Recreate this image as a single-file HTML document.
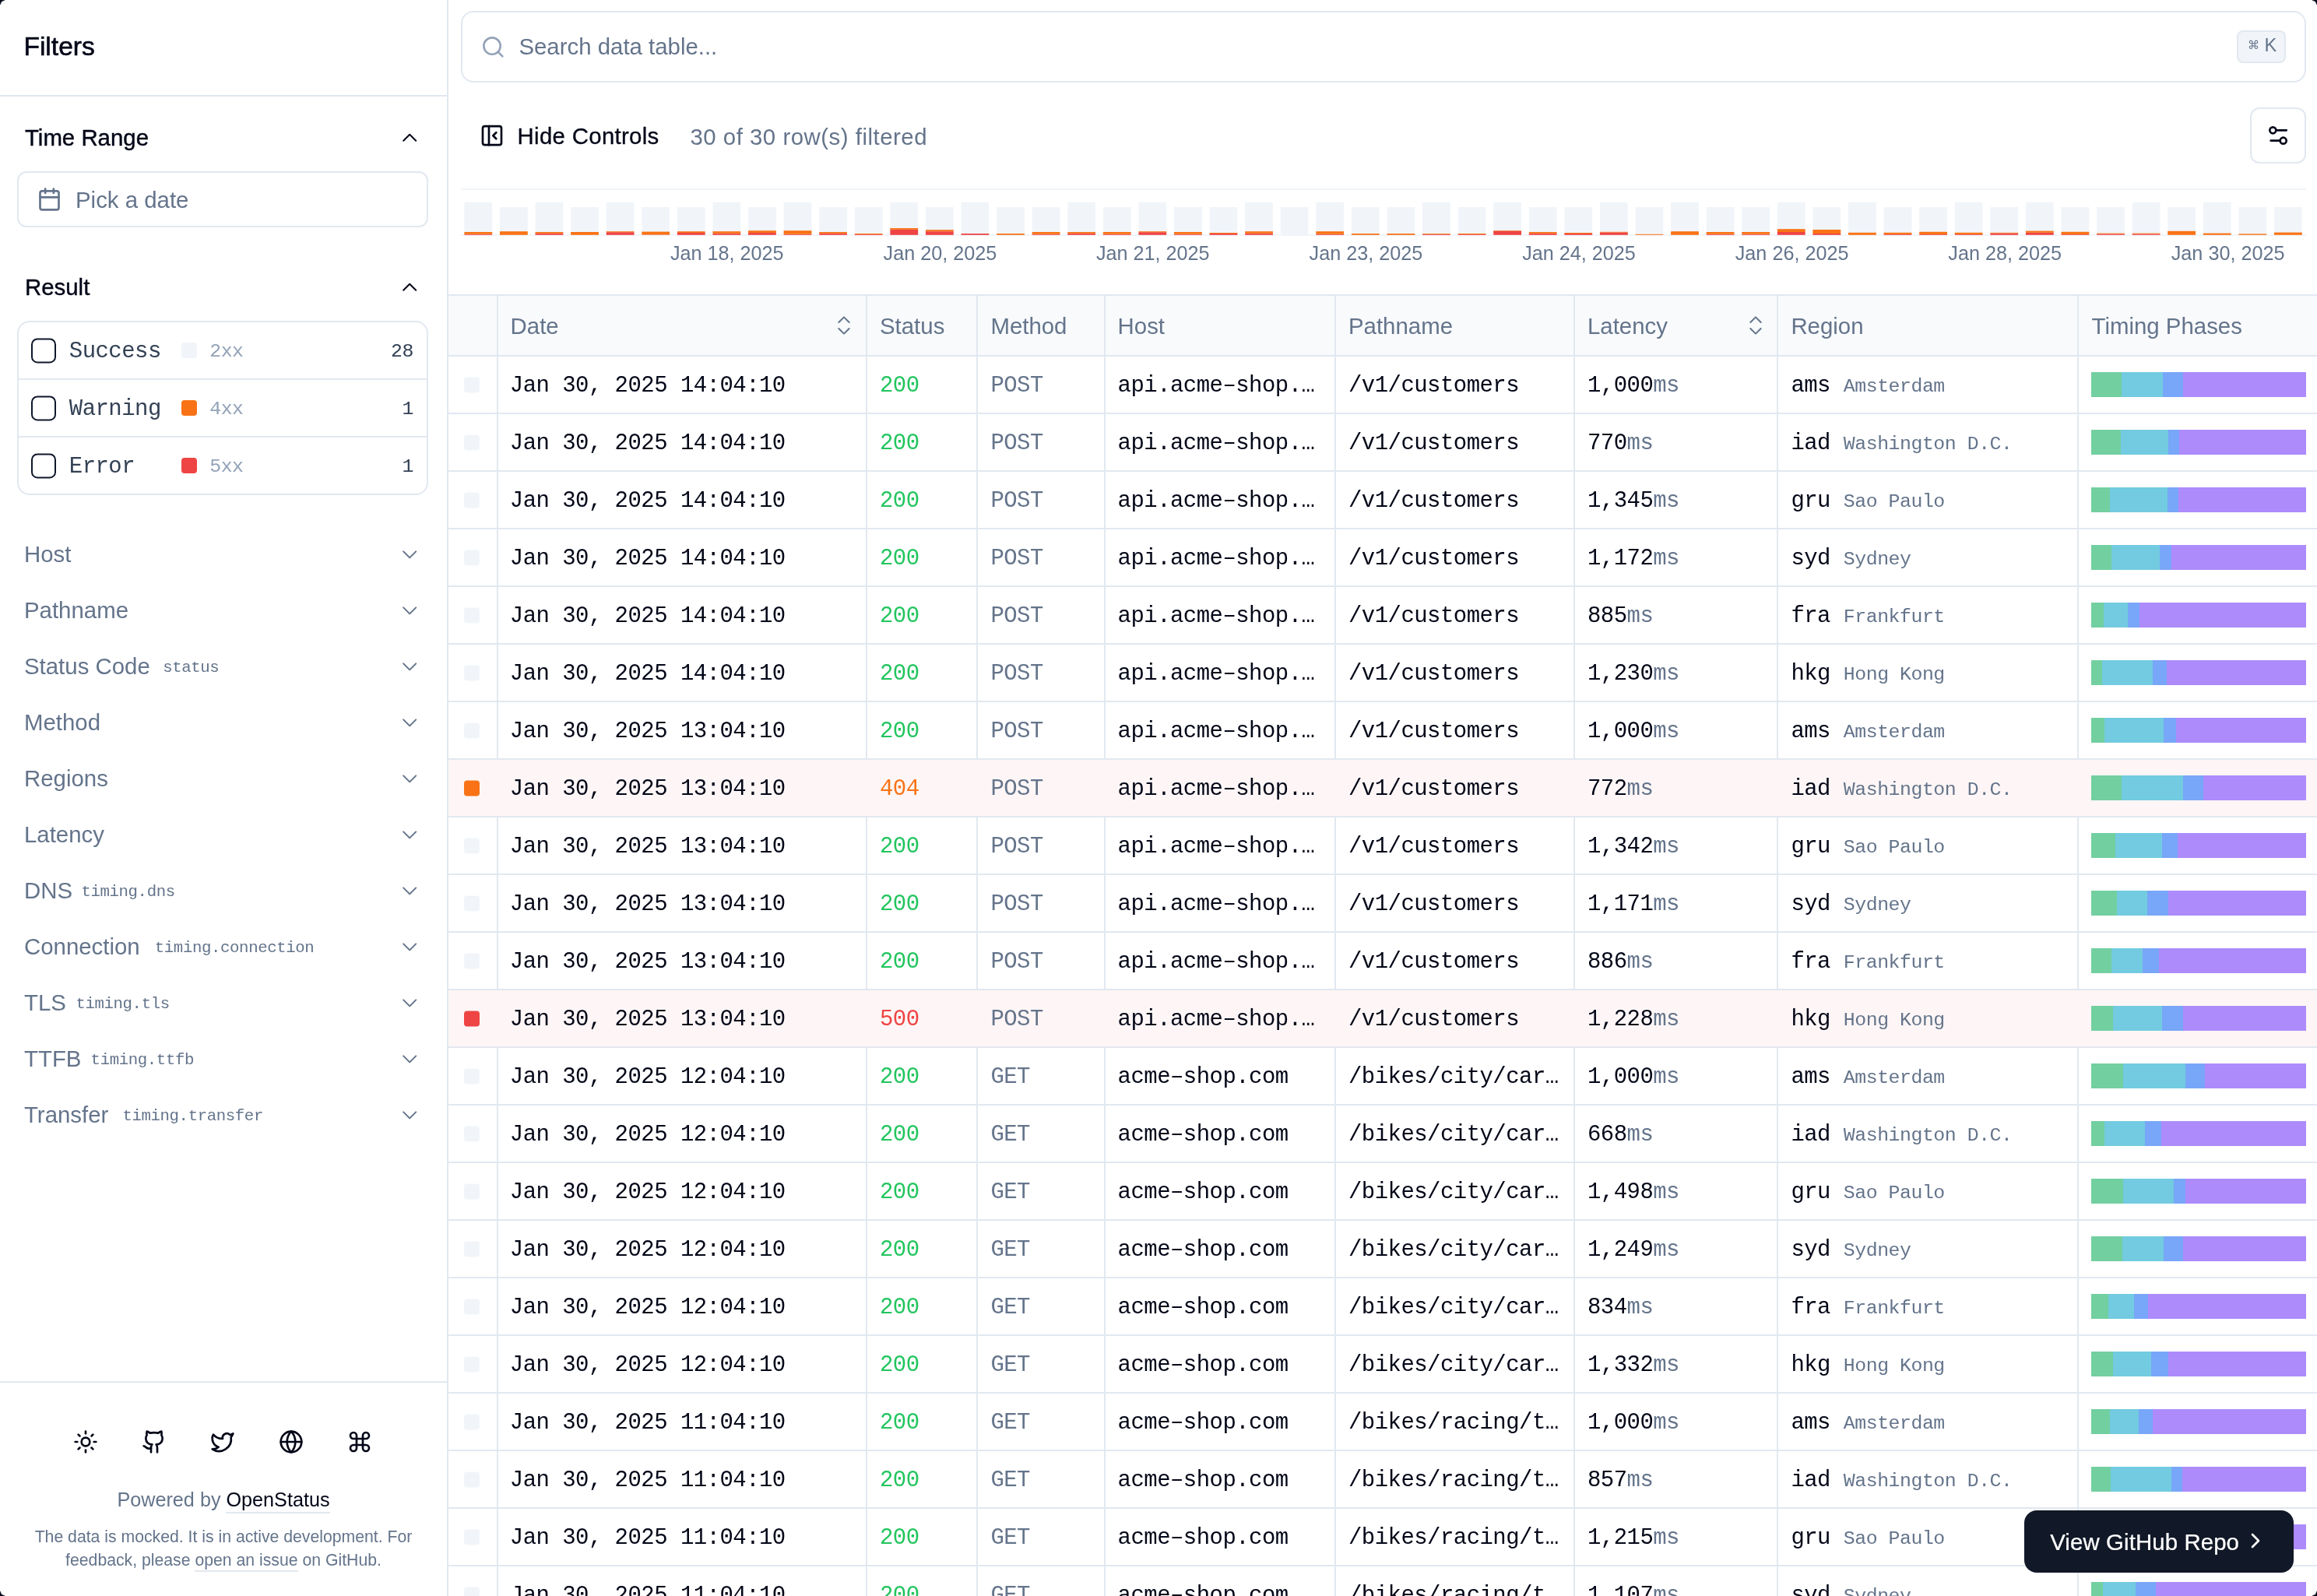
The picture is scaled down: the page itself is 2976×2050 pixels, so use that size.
<!DOCTYPE html><html><head><meta charset="utf-8"><style>
html,body{margin:0;padding:0}
body{width:1488px;height:1025px;overflow:hidden;background:#fff;position:relative;font-family:'Liberation Sans', sans-serif}
.t{position:absolute;white-space:nowrap;line-height:1}
.b{position:absolute;box-sizing:border-box}
.ic{position:absolute;overflow:visible}
@media (min-width: 2000px) { body{zoom:2} .t{margin-top:-1px} }

</style></head><body><div id="wrap" style="position:absolute;left:0;top:0;width:1488px;height:1025px;will-change:transform">
<div class="b" style="left:287px;top:0px;width:1px;height:1025px;background:#e2e8f0"></div>
<div class="b" style="left:0px;top:61px;width:287px;height:1px;background:#e2e8f0"></div>
<div class="t" style="font-size:16.80px;color:#020617;letter-spacing:0.000px;font-family:'Liberation Sans', sans-serif;left:15px;top:22px;transform:translate(0.200px,0.600px);-webkit-text-stroke:0.3px #020617;">Filters</div>
<div class="t" style="font-size:14.70px;color:#020617;letter-spacing:0.000px;font-family:'Liberation Sans', sans-serif;left:16px;top:81px;transform:translate(0.000px,0.929px);-webkit-text-stroke:0.2px #020617;">Time Range</div>
<svg class="ic" style="left:255px;top:80px;transform:translate(0.100px,0.400px);" width="16" height="16" viewBox="0 0 24 24" fill="none" stroke="#020617" stroke-width="1.5" stroke-linecap="round" stroke-linejoin="round"><path d="m18 15-6-6-6 6"/></svg>
<div class="b" style="left:11px;top:110px;width:264px;height:36px;border:1px solid #e2e8f0;border-radius:6px"></div>
<svg class="ic" style="left:23px;top:120px;transform:translate(0.750px,0.000px);" width="16" height="16" viewBox="0 0 24 24" fill="none" stroke="#64748b" stroke-width="2" stroke-linecap="round" stroke-linejoin="round"><path d="M8 2v4"/><path d="M16 2v4"/><rect width="18" height="18" x="3" y="4" rx="2"/><path d="M3 10h18"/></svg>
<div class="t" style="font-size:14.70px;color:#64748b;letter-spacing:0.000px;font-family:'Liberation Sans', sans-serif;left:48px;top:121px;transform:translate(0.500px,0.929px);">Pick a date</div>
<div class="t" style="font-size:14.70px;color:#020617;letter-spacing:0.000px;font-family:'Liberation Sans', sans-serif;left:16px;top:177px;transform:translate(0.000px,0.929px);-webkit-text-stroke:0.2px #020617;">Result</div>
<svg class="ic" style="left:255px;top:176px;transform:translate(0.100px,0.400px);" width="16" height="16" viewBox="0 0 24 24" fill="none" stroke="#020617" stroke-width="1.5" stroke-linecap="round" stroke-linejoin="round"><path d="m18 15-6-6-6 6"/></svg>
<div class="b" style="left:11px;top:206px;width:264px;height:112px;border:1px solid #e2e8f0;border-radius:8px"></div>
<div class="b" style="left:12px;top:243px;width:262px;height:1px;background:#e2e8f0"></div>
<div class="b" style="left:12px;top:280px;width:262px;height:1px;background:#e2e8f0"></div>
<div class="b" style="left:20px;top:217px;transform:translate(0.000px,0.200px);width:16px;height:16px;border:1px solid #0f172a;border-radius:4px"></div>
<div class="t" style="font-size:14.49px;color:#334155;letter-spacing:-0.266px;font-family:'Liberation Mono', monospace;left:44px;top:219px;transform:translate(0.400px,0.524px);">Success</div>
<div class="b" style="left:116px;top:220px;transform:translate(0.500px,0.000px);width:10px;height:10px;background:#f1f5f9;border-radius:2px"></div>
<div class="t" style="font-size:12.42px;color:#94a3b8;letter-spacing:-0.228px;font-family:'Liberation Mono', monospace;left:134px;top:220px;transform:translate(0.600px,0.410px);">2xx</div>
<div class="t" style="font-size:12.42px;color:#334155;letter-spacing:-0.228px;font-family:'Liberation Mono', monospace;right:1222.5px;top:220px;transform:translateY(0.410px);">28</div>
<div class="b" style="left:20px;top:254px;transform:translate(0.000px,0.200px);width:16px;height:16px;border:1px solid #0f172a;border-radius:4px"></div>
<div class="t" style="font-size:14.49px;color:#334155;letter-spacing:-0.266px;font-family:'Liberation Mono', monospace;left:44px;top:256px;transform:translate(0.400px,0.524px);">Warning</div>
<div class="b" style="left:116px;top:257px;transform:translate(0.500px,0.000px);width:10px;height:10px;background:#f97316;border-radius:2px"></div>
<div class="t" style="font-size:12.42px;color:#94a3b8;letter-spacing:-0.228px;font-family:'Liberation Mono', monospace;left:134px;top:257px;transform:translate(0.600px,0.410px);">4xx</div>
<div class="t" style="font-size:12.42px;color:#334155;letter-spacing:-0.228px;font-family:'Liberation Mono', monospace;right:1222.5px;top:257px;transform:translateY(0.410px);">1</div>
<div class="b" style="left:20px;top:291px;transform:translate(0.000px,0.200px);width:16px;height:16px;border:1px solid #0f172a;border-radius:4px"></div>
<div class="t" style="font-size:14.49px;color:#334155;letter-spacing:-0.266px;font-family:'Liberation Mono', monospace;left:44px;top:293px;transform:translate(0.400px,0.524px);">Error</div>
<div class="b" style="left:116px;top:294px;transform:translate(0.500px,0.000px);width:10px;height:10px;background:#ef4444;border-radius:2px"></div>
<div class="t" style="font-size:12.42px;color:#94a3b8;letter-spacing:-0.228px;font-family:'Liberation Mono', monospace;left:134px;top:294px;transform:translate(0.600px,0.410px);">5xx</div>
<div class="t" style="font-size:12.42px;color:#334155;letter-spacing:-0.228px;font-family:'Liberation Mono', monospace;right:1222.5px;top:294px;transform:translateY(0.410px);">1</div>
<div class="t" style="font-size:14.70px;color:#64748b;letter-spacing:0.000px;font-family:'Liberation Sans', sans-serif;left:15px;top:349px;transform:translate(0.500px,0.629px);">Host</div>
<svg class="ic" style="left:255px;top:348px;transform:translate(0.100px,0.200px);" width="16" height="16" viewBox="0 0 24 24" fill="none" stroke="#64748b" stroke-width="1.5" stroke-linecap="round" stroke-linejoin="round"><path d="m6 9 6 6 6-6"/></svg>
<div class="t" style="font-size:14.70px;color:#64748b;letter-spacing:0.000px;font-family:'Liberation Sans', sans-serif;left:15px;top:385px;transform:translate(0.500px,0.629px);">Pathname</div>
<svg class="ic" style="left:255px;top:384px;transform:translate(0.100px,0.200px);" width="16" height="16" viewBox="0 0 24 24" fill="none" stroke="#64748b" stroke-width="1.5" stroke-linecap="round" stroke-linejoin="round"><path d="m6 9 6 6 6-6"/></svg>
<div class="t" style="font-size:14.70px;color:#64748b;letter-spacing:0.000px;font-family:'Liberation Sans', sans-serif;left:15px;top:421px;transform:translate(0.500px,0.629px);">Status Code</div>
<div class="t" style="font-size:10.35px;color:#64748b;letter-spacing:-0.190px;font-family:'Liberation Mono', monospace;left:104px;top:425px;transform:translate(0.600px,0.146px);">status</div>
<svg class="ic" style="left:255px;top:420px;transform:translate(0.100px,0.200px);" width="16" height="16" viewBox="0 0 24 24" fill="none" stroke="#64748b" stroke-width="1.5" stroke-linecap="round" stroke-linejoin="round"><path d="m6 9 6 6 6-6"/></svg>
<div class="t" style="font-size:14.70px;color:#64748b;letter-spacing:0.000px;font-family:'Liberation Sans', sans-serif;left:15px;top:457px;transform:translate(0.500px,0.629px);">Method</div>
<svg class="ic" style="left:255px;top:456px;transform:translate(0.100px,0.200px);" width="16" height="16" viewBox="0 0 24 24" fill="none" stroke="#64748b" stroke-width="1.5" stroke-linecap="round" stroke-linejoin="round"><path d="m6 9 6 6 6-6"/></svg>
<div class="t" style="font-size:14.70px;color:#64748b;letter-spacing:0.000px;font-family:'Liberation Sans', sans-serif;left:15px;top:493px;transform:translate(0.500px,0.629px);">Regions</div>
<svg class="ic" style="left:255px;top:492px;transform:translate(0.100px,0.200px);" width="16" height="16" viewBox="0 0 24 24" fill="none" stroke="#64748b" stroke-width="1.5" stroke-linecap="round" stroke-linejoin="round"><path d="m6 9 6 6 6-6"/></svg>
<div class="t" style="font-size:14.70px;color:#64748b;letter-spacing:0.000px;font-family:'Liberation Sans', sans-serif;left:15px;top:529px;transform:translate(0.500px,0.629px);">Latency</div>
<svg class="ic" style="left:255px;top:528px;transform:translate(0.100px,0.200px);" width="16" height="16" viewBox="0 0 24 24" fill="none" stroke="#64748b" stroke-width="1.5" stroke-linecap="round" stroke-linejoin="round"><path d="m6 9 6 6 6-6"/></svg>
<div class="t" style="font-size:14.70px;color:#64748b;letter-spacing:0.000px;font-family:'Liberation Sans', sans-serif;left:15px;top:565px;transform:translate(0.500px,0.629px);">DNS</div>
<div class="t" style="font-size:10.35px;color:#64748b;letter-spacing:-0.190px;font-family:'Liberation Mono', monospace;left:52px;top:569px;transform:translate(0.200px,0.146px);">timing.dns</div>
<svg class="ic" style="left:255px;top:564px;transform:translate(0.100px,0.200px);" width="16" height="16" viewBox="0 0 24 24" fill="none" stroke="#64748b" stroke-width="1.5" stroke-linecap="round" stroke-linejoin="round"><path d="m6 9 6 6 6-6"/></svg>
<div class="t" style="font-size:14.70px;color:#64748b;letter-spacing:0.000px;font-family:'Liberation Sans', sans-serif;left:15px;top:601px;transform:translate(0.500px,0.629px);">Connection</div>
<div class="t" style="font-size:10.35px;color:#64748b;letter-spacing:-0.190px;font-family:'Liberation Mono', monospace;left:99px;top:605px;transform:translate(0.400px,0.146px);">timing.connection</div>
<svg class="ic" style="left:255px;top:600px;transform:translate(0.100px,0.200px);" width="16" height="16" viewBox="0 0 24 24" fill="none" stroke="#64748b" stroke-width="1.5" stroke-linecap="round" stroke-linejoin="round"><path d="m6 9 6 6 6-6"/></svg>
<div class="t" style="font-size:14.70px;color:#64748b;letter-spacing:0.000px;font-family:'Liberation Sans', sans-serif;left:15px;top:637px;transform:translate(0.500px,0.629px);">TLS</div>
<div class="t" style="font-size:10.35px;color:#64748b;letter-spacing:-0.190px;font-family:'Liberation Mono', monospace;left:48px;top:641px;transform:translate(0.700px,0.146px);">timing.tls</div>
<svg class="ic" style="left:255px;top:636px;transform:translate(0.100px,0.200px);" width="16" height="16" viewBox="0 0 24 24" fill="none" stroke="#64748b" stroke-width="1.5" stroke-linecap="round" stroke-linejoin="round"><path d="m6 9 6 6 6-6"/></svg>
<div class="t" style="font-size:14.70px;color:#64748b;letter-spacing:0.000px;font-family:'Liberation Sans', sans-serif;left:15px;top:673px;transform:translate(0.500px,0.629px);">TTFB</div>
<div class="t" style="font-size:10.35px;color:#64748b;letter-spacing:-0.190px;font-family:'Liberation Mono', monospace;left:58px;top:677px;transform:translate(0.300px,0.146px);">timing.ttfb</div>
<svg class="ic" style="left:255px;top:672px;transform:translate(0.100px,0.200px);" width="16" height="16" viewBox="0 0 24 24" fill="none" stroke="#64748b" stroke-width="1.5" stroke-linecap="round" stroke-linejoin="round"><path d="m6 9 6 6 6-6"/></svg>
<div class="t" style="font-size:14.70px;color:#64748b;letter-spacing:0.000px;font-family:'Liberation Sans', sans-serif;left:15px;top:709px;transform:translate(0.500px,0.629px);">Transfer</div>
<div class="t" style="font-size:10.35px;color:#64748b;letter-spacing:-0.190px;font-family:'Liberation Mono', monospace;left:78px;top:713px;transform:translate(0.700px,0.146px);">timing.transfer</div>
<svg class="ic" style="left:255px;top:708px;transform:translate(0.100px,0.200px);" width="16" height="16" viewBox="0 0 24 24" fill="none" stroke="#64748b" stroke-width="1.5" stroke-linecap="round" stroke-linejoin="round"><path d="m6 9 6 6 6-6"/></svg>
<div class="b" style="left:0px;top:887px;width:287px;height:1px;background:#e2e8f0"></div>
<svg class="ic" style="left:47px;top:918px;" width="16" height="16" viewBox="0 0 24 24" fill="none" stroke="#020617" stroke-width="2" stroke-linecap="round" stroke-linejoin="round"><circle cx="12" cy="12" r="4"/><path d="M12 2v2"/><path d="M12 20v2"/><path d="m4.93 4.93 1.41 1.41"/><path d="m17.66 17.66 1.41 1.41"/><path d="M2 12h2"/><path d="M20 12h2"/><path d="m6.34 17.66-1.41 1.41"/><path d="m19.07 4.93-1.41 1.41"/></svg>
<svg class="ic" style="left:91px;top:918px;" width="16" height="16" viewBox="0 0 24 24" fill="none" stroke="#020617" stroke-width="2" stroke-linecap="round" stroke-linejoin="round"><path d="M15 22v-4a4.8 4.8 0 0 0-1-3.5c3 0 6-2 6-5.5.08-1.25-.27-2.48-1-3.5.28-1.15.28-2.35 0-3.5 0 0-1 0-3 1.5-2.64-.5-5.36-.5-8 0C6 2 5 2 5 2c-.3 1.15-.3 2.35 0 3.5A5.403 5.403 0 0 0 4 9c0 3.5 3 5.5 6 5.5-.39.49-.68 1.05-.85 1.65-.17.6-.22 1.23-.15 1.85v4"/><path d="M9 18c-4.51 2-5-2-7-2"/></svg>
<svg class="ic" style="left:135px;top:918px;" width="16" height="16" viewBox="0 0 24 24" fill="none" stroke="#020617" stroke-width="2" stroke-linecap="round" stroke-linejoin="round"><path d="M22 4s-.7 2.1-2 3.4c1.6 10-9.4 17.3-18 11.6 2.2.1 4.4-.6 6-2C3 15.5.5 9.6 3 5c2.2 2.6 5.6 4.1 9 4-.9-4.2 4-6.6 7-3.8 1.1 0 3-1.2 3-1.2z"/></svg>
<svg class="ic" style="left:179px;top:918px;" width="16" height="16" viewBox="0 0 24 24" fill="none" stroke="#020617" stroke-width="2" stroke-linecap="round" stroke-linejoin="round"><circle cx="12" cy="12" r="10"/><path d="M12 2a14.5 14.5 0 0 0 0 20 14.5 14.5 0 0 0 0-20"/><path d="M2 12h20"/></svg>
<svg class="ic" style="left:223px;top:918px;" width="16" height="16" viewBox="0 0 24 24" fill="none" stroke="#020617" stroke-width="2" stroke-linecap="round" stroke-linejoin="round"><path d="M15 6v12a3 3 0 1 0 3-3H6a3 3 0 1 0 3 3V6a3 3 0 1 0-3 3h12a3 3 0 1 0-3-3"/></svg>
<div class="t" style="font-size:12.60px;color:#64748b;letter-spacing:0.000px;font-family:'Liberation Sans', sans-serif;left:3px;top:957px;transform:translate(0.500px,0.957px);width:280px;text-align:center;">Powered by <span style="color:#020617;border-bottom:1px solid #e2e8f0;padding-bottom:1px">OpenStatus</span></div>
<div class="t" style="font-size:10.61px;color:#64748b;letter-spacing:0.000px;font-family:'Liberation Sans', sans-serif;left:0px;top:982px;transform:translate(0.500px,0.596px);width:286px;text-align:center;">The data is mocked. It is in active development. For</div>
<div class="t" style="font-size:10.61px;color:#64748b;letter-spacing:0.000px;font-family:'Liberation Sans', sans-serif;left:0px;top:997px;transform:translate(0.500px,0.496px);width:286px;text-align:center;">feedback, please <span style="border-bottom:1px solid #e2e8f0;padding-bottom:1px">open an issue</span> on GitHub.</div>
<div class="b" style="left:296px;top:7px;width:1185px;height:46px;border:1px solid #e2e8f0;border-radius:8px"></div>
<svg class="ic" style="left:308px;top:22px;transform:translate(0.700px,0.200px);" width="16" height="16" viewBox="0 0 24 24" fill="none" stroke="#94a3b8" stroke-width="2" stroke-linecap="round" stroke-linejoin="round"><circle cx="11" cy="11" r="8"/><path d="m21 21-4.3-4.3"/></svg>
<div class="t" style="font-size:14.70px;color:#64748b;letter-spacing:0.000px;font-family:'Liberation Sans', sans-serif;left:333px;top:23px;transform:translate(0.200px,0.679px);">Search data table...</div>
<div class="b" style="left:1436px;top:19px;transform:translate(0.500px,0.500px);width:31.5px;height:21px;background:#f1f5f9;border:1px solid #e2e8f0;border-radius:4px"></div>
<div class="t" style="font-size:7.67px;color:#64748b;letter-spacing:0.000px;font-family:'Liberation Sans', sans-serif;left:1443px;top:26px;transform:translate(0.400px,0.085px);">⌘</div>
<div class="t" style="font-size:11.87px;color:#64748b;letter-spacing:0.000px;font-family:'Liberation Sans', sans-serif;left:1454px;top:24px;transform:translate(0.200px,0.579px);">K</div>
<svg class="ic" style="left:308px;top:79px;transform:translate(0.000px,0.100px);" width="16" height="16" viewBox="0 0 24 24" fill="none" stroke="#020617" stroke-width="2" stroke-linecap="round" stroke-linejoin="round"><rect width="18" height="18" x="3" y="3" rx="2"/><path d="M9 3v18"/><path d="m16 15-3-3 3-3"/></svg>
<div class="t" style="font-size:14.70px;color:#020617;letter-spacing:0.150px;font-family:'Liberation Sans', sans-serif;left:332px;top:81px;transform:translate(0.300px,0.129px);-webkit-text-stroke:0.15px #020617;">Hide Controls</div>
<div class="t" style="font-size:14.70px;color:#64748b;letter-spacing:0.255px;font-family:'Liberation Sans', sans-serif;left:443px;top:81px;transform:translate(0.200px,0.329px);">30 of 30 row(s) filtered</div>
<div class="b" style="left:1445px;top:69px;width:36px;height:36px;border:1px solid #e2e8f0;border-radius:6px"></div>
<svg class="ic" style="left:1455px;top:79px;" width="16" height="16" viewBox="0 0 24 24" fill="none" stroke="#020617" stroke-width="2" stroke-linecap="round" stroke-linejoin="round"><path d="M20 7h-9"/><path d="M14 17H5"/><circle cx="17" cy="17" r="3"/><circle cx="7" cy="7" r="3"/></svg>
<div class="b" style="left:296px;top:121px;width:1185px;height:1px;background:#f1f5f9"></div>
<div class="b" style="left:296px;top:150px;transform:translate(0.000px,0.500px);width:1185px;height:1px;background:#f1f5f9"></div>
<svg style="position:absolute;left:0;top:0;overflow:visible" width="1488" height="160"><rect x="298.20" y="129.9" width="17.9" height="21.00" fill="#f1f5f9"/><rect x="298.20" y="150.40" width="17.9" height="0.5" fill="#ef4444"/><rect x="298.20" y="149.00" width="17.9" height="1.4" fill="#f97316"/><rect x="320.99" y="133" width="17.9" height="17.90" fill="#f1f5f9"/><rect x="320.99" y="148.60" width="17.9" height="2.3" fill="#f97316"/><rect x="343.78" y="129.9" width="17.9" height="21.00" fill="#f1f5f9"/><rect x="343.78" y="149.90" width="17.9" height="1" fill="#ef4444"/><rect x="343.78" y="149.00" width="17.9" height="0.9" fill="#f97316"/><rect x="366.57" y="133" width="17.9" height="17.90" fill="#f1f5f9"/><rect x="366.57" y="149.00" width="17.9" height="1.9" fill="#f97316"/><rect x="389.36" y="129.9" width="17.9" height="21.00" fill="#f1f5f9"/><rect x="389.36" y="149.10" width="17.9" height="1.8" fill="#ef4444"/><rect x="389.36" y="148.60" width="17.9" height="0.5" fill="#f97316"/><rect x="412.15" y="133" width="17.9" height="17.90" fill="#f1f5f9"/><rect x="412.15" y="150.70" width="17.9" height="0.2" fill="#ef4444"/><rect x="412.15" y="148.80" width="17.9" height="1.9" fill="#f97316"/><rect x="434.94" y="133" width="17.9" height="17.90" fill="#f1f5f9"/><rect x="434.94" y="149.50" width="17.9" height="1.4" fill="#ef4444"/><rect x="434.94" y="148.60" width="17.9" height="0.9" fill="#f97316"/><rect x="457.73" y="129.9" width="17.9" height="21.00" fill="#f1f5f9"/><rect x="457.73" y="149.90" width="17.9" height="1" fill="#ef4444"/><rect x="457.73" y="148.60" width="17.9" height="1.3" fill="#f97316"/><rect x="480.52" y="133" width="17.9" height="17.90" fill="#f1f5f9"/><rect x="480.52" y="149.50" width="17.9" height="1.4" fill="#ef4444"/><rect x="480.52" y="148.10" width="17.9" height="1.4" fill="#f97316"/><rect x="503.31" y="129.9" width="17.9" height="21.00" fill="#f1f5f9"/><rect x="503.31" y="150.40" width="17.9" height="0.5" fill="#ef4444"/><rect x="503.31" y="148.10" width="17.9" height="2.3" fill="#f97316"/><rect x="526.10" y="133" width="17.9" height="17.90" fill="#f1f5f9"/><rect x="526.10" y="149.90" width="17.9" height="1" fill="#ef4444"/><rect x="526.10" y="149.00" width="17.9" height="0.9" fill="#f97316"/><rect x="548.89" y="133" width="17.9" height="17.90" fill="#f1f5f9"/><rect x="548.89" y="150.50" width="17.9" height="0.4" fill="#ef4444"/><rect x="548.89" y="150.00" width="17.9" height="0.5" fill="#f97316"/><rect x="571.68" y="129.9" width="17.9" height="21.00" fill="#f1f5f9"/><rect x="571.68" y="147.40" width="17.9" height="3.5" fill="#ef4444"/><rect x="571.68" y="146.50" width="17.9" height="0.9" fill="#f97316"/><rect x="594.47" y="133" width="17.9" height="17.90" fill="#f1f5f9"/><rect x="594.47" y="148.60" width="17.9" height="2.3" fill="#ef4444"/><rect x="594.47" y="147.60" width="17.9" height="1" fill="#f97316"/><rect x="617.26" y="129.9" width="17.9" height="21.00" fill="#f1f5f9"/><rect x="617.26" y="150.00" width="17.9" height="0.9" fill="#ef4444"/><rect x="640.05" y="133" width="17.9" height="17.90" fill="#f1f5f9"/><rect x="640.05" y="150.00" width="17.9" height="0.9" fill="#f97316"/><rect x="662.84" y="133" width="17.9" height="17.90" fill="#f1f5f9"/><rect x="662.84" y="150.40" width="17.9" height="0.5" fill="#ef4444"/><rect x="662.84" y="149.00" width="17.9" height="1.4" fill="#f97316"/><rect x="685.63" y="129.9" width="17.9" height="21.00" fill="#f1f5f9"/><rect x="685.63" y="149.90" width="17.9" height="1" fill="#ef4444"/><rect x="685.63" y="149.00" width="17.9" height="0.9" fill="#f97316"/><rect x="708.42" y="133" width="17.9" height="17.90" fill="#f1f5f9"/><rect x="708.42" y="150.40" width="17.9" height="0.5" fill="#ef4444"/><rect x="708.42" y="149.00" width="17.9" height="1.4" fill="#f97316"/><rect x="731.21" y="129.9" width="17.9" height="21.00" fill="#f1f5f9"/><rect x="731.21" y="149.10" width="17.9" height="1.8" fill="#ef4444"/><rect x="731.21" y="148.60" width="17.9" height="0.5" fill="#f97316"/><rect x="754.00" y="133" width="17.9" height="17.90" fill="#f1f5f9"/><rect x="754.00" y="150.40" width="17.9" height="0.5" fill="#ef4444"/><rect x="754.00" y="149.00" width="17.9" height="1.4" fill="#f97316"/><rect x="776.79" y="133" width="17.9" height="17.90" fill="#f1f5f9"/><rect x="776.79" y="150.00" width="17.9" height="0.9" fill="#ef4444"/><rect x="776.79" y="149.50" width="17.9" height="0.5" fill="#f97316"/><rect x="799.58" y="129.9" width="17.9" height="21.00" fill="#f1f5f9"/><rect x="799.58" y="149.90" width="17.9" height="1" fill="#ef4444"/><rect x="799.58" y="148.60" width="17.9" height="1.3" fill="#f97316"/><rect x="822.37" y="133" width="17.9" height="17.90" fill="#f1f5f9"/><rect x="845.16" y="129.9" width="17.9" height="21.00" fill="#f1f5f9"/><rect x="845.16" y="150.40" width="17.9" height="0.5" fill="#ef4444"/><rect x="845.16" y="148.60" width="17.9" height="1.8" fill="#f97316"/><rect x="867.95" y="133" width="17.9" height="17.90" fill="#f1f5f9"/><rect x="867.95" y="150.00" width="17.9" height="0.9" fill="#f97316"/><rect x="890.74" y="133" width="17.9" height="17.90" fill="#f1f5f9"/><rect x="890.74" y="150.00" width="17.9" height="0.9" fill="#f97316"/><rect x="913.53" y="129.9" width="17.9" height="21.00" fill="#f1f5f9"/><rect x="913.53" y="150.40" width="17.9" height="0.5" fill="#ef4444"/><rect x="913.53" y="150.00" width="17.9" height="0.4" fill="#f97316"/><rect x="936.32" y="133" width="17.9" height="17.90" fill="#f1f5f9"/><rect x="936.32" y="150.50" width="17.9" height="0.4" fill="#ef4444"/><rect x="936.32" y="150.00" width="17.9" height="0.5" fill="#f97316"/><rect x="959.11" y="129.9" width="17.9" height="21.00" fill="#f1f5f9"/><rect x="959.11" y="148.30" width="17.9" height="2.6" fill="#ef4444"/><rect x="959.11" y="148.00" width="17.9" height="0.3" fill="#f97316"/><rect x="981.90" y="133" width="17.9" height="17.90" fill="#f1f5f9"/><rect x="981.90" y="149.90" width="17.9" height="1" fill="#ef4444"/><rect x="981.90" y="149.00" width="17.9" height="0.9" fill="#f97316"/><rect x="1004.69" y="133" width="17.9" height="17.90" fill="#f1f5f9"/><rect x="1004.69" y="150.00" width="17.9" height="0.9" fill="#ef4444"/><rect x="1004.69" y="149.50" width="17.9" height="0.5" fill="#f97316"/><rect x="1027.48" y="129.9" width="17.9" height="21.00" fill="#f1f5f9"/><rect x="1027.48" y="149.20" width="17.9" height="1.7" fill="#ef4444"/><rect x="1027.48" y="148.90" width="17.9" height="0.3" fill="#f97316"/><rect x="1050.27" y="133" width="17.9" height="17.90" fill="#f1f5f9"/><rect x="1050.27" y="150.40" width="17.9" height="0.5" fill="#f97316"/><rect x="1073.06" y="129.9" width="17.9" height="21.00" fill="#f1f5f9"/><rect x="1073.06" y="148.60" width="17.9" height="2.3" fill="#f97316"/><rect x="1095.85" y="133" width="17.9" height="17.90" fill="#f1f5f9"/><rect x="1095.85" y="150.40" width="17.9" height="0.5" fill="#ef4444"/><rect x="1095.85" y="149.00" width="17.9" height="1.4" fill="#f97316"/><rect x="1118.64" y="133" width="17.9" height="17.90" fill="#f1f5f9"/><rect x="1118.64" y="150.40" width="17.9" height="0.5" fill="#ef4444"/><rect x="1118.64" y="149.00" width="17.9" height="1.4" fill="#f97316"/><rect x="1141.43" y="129.9" width="17.9" height="21.00" fill="#f1f5f9"/><rect x="1141.43" y="149.00" width="17.9" height="1.9" fill="#ef4444"/><rect x="1141.43" y="147.10" width="17.9" height="1.9" fill="#f97316"/><rect x="1164.22" y="133" width="17.9" height="17.90" fill="#f1f5f9"/><rect x="1164.22" y="150.00" width="17.9" height="0.9" fill="#ef4444"/><rect x="1164.22" y="147.50" width="17.9" height="2.5" fill="#f97316"/><rect x="1187.01" y="129.9" width="17.9" height="21.00" fill="#f1f5f9"/><rect x="1187.01" y="149.40" width="17.9" height="1.5" fill="#f97316"/><rect x="1209.80" y="133" width="17.9" height="17.90" fill="#f1f5f9"/><rect x="1209.80" y="150.50" width="17.9" height="0.4" fill="#ef4444"/><rect x="1209.80" y="149.40" width="17.9" height="1.1" fill="#f97316"/><rect x="1232.59" y="133" width="17.9" height="17.90" fill="#f1f5f9"/><rect x="1232.59" y="150.50" width="17.9" height="0.4" fill="#ef4444"/><rect x="1232.59" y="148.90" width="17.9" height="1.6" fill="#f97316"/><rect x="1255.38" y="129.9" width="17.9" height="21.00" fill="#f1f5f9"/><rect x="1255.38" y="150.50" width="17.9" height="0.4" fill="#ef4444"/><rect x="1255.38" y="149.40" width="17.9" height="1.1" fill="#f97316"/><rect x="1278.17" y="133" width="17.9" height="17.90" fill="#f1f5f9"/><rect x="1278.17" y="149.80" width="17.9" height="1.1" fill="#ef4444"/><rect x="1278.17" y="149.40" width="17.9" height="0.4" fill="#f97316"/><rect x="1300.96" y="129.9" width="17.9" height="21.00" fill="#f1f5f9"/><rect x="1300.96" y="149.40" width="17.9" height="1.5" fill="#ef4444"/><rect x="1300.96" y="148.30" width="17.9" height="1.1" fill="#f97316"/><rect x="1323.75" y="133" width="17.9" height="17.90" fill="#f1f5f9"/><rect x="1323.75" y="150.50" width="17.9" height="0.4" fill="#ef4444"/><rect x="1323.75" y="148.90" width="17.9" height="1.6" fill="#f97316"/><rect x="1346.54" y="133" width="17.9" height="17.90" fill="#f1f5f9"/><rect x="1346.54" y="150.20" width="17.9" height="0.7" fill="#ef4444"/><rect x="1346.54" y="149.80" width="17.9" height="0.4" fill="#f97316"/><rect x="1369.33" y="129.9" width="17.9" height="21.00" fill="#f1f5f9"/><rect x="1369.33" y="150.20" width="17.9" height="0.7" fill="#ef4444"/><rect x="1369.33" y="149.80" width="17.9" height="0.4" fill="#f97316"/><rect x="1392.12" y="133" width="17.9" height="17.90" fill="#f1f5f9"/><rect x="1392.12" y="148.40" width="17.9" height="2.5" fill="#f97316"/><rect x="1414.91" y="129.9" width="17.9" height="21.00" fill="#f1f5f9"/><rect x="1414.91" y="149.80" width="17.9" height="1.1" fill="#f97316"/><rect x="1437.70" y="133" width="17.9" height="17.90" fill="#f1f5f9"/><rect x="1437.70" y="150.20" width="17.9" height="0.7" fill="#f97316"/><rect x="1460.49" y="133" width="17.9" height="17.90" fill="#f1f5f9"/><rect x="1460.49" y="149.30" width="17.9" height="1.6" fill="#f97316"/></svg>
<div class="t" style="font-size:12.60px;color:#64748b;letter-spacing:0.000px;font-family:'Liberation Sans', sans-serif;left:406px;top:157px;transform:translate(0.900px,0.457px);width:120px;text-align:center;">Jan 18, 2025</div>
<div class="t" style="font-size:12.60px;color:#64748b;letter-spacing:0.000px;font-family:'Liberation Sans', sans-serif;left:543px;top:157px;transform:translate(0.700px,0.457px);width:120px;text-align:center;">Jan 20, 2025</div>
<div class="t" style="font-size:12.60px;color:#64748b;letter-spacing:0.000px;font-family:'Liberation Sans', sans-serif;left:680px;top:157px;transform:translate(0.400px,0.457px);width:120px;text-align:center;">Jan 21, 2025</div>
<div class="t" style="font-size:12.60px;color:#64748b;letter-spacing:0.000px;font-family:'Liberation Sans', sans-serif;left:817px;top:157px;transform:translate(0.200px,0.457px);width:120px;text-align:center;">Jan 23, 2025</div>
<div class="t" style="font-size:12.60px;color:#64748b;letter-spacing:0.000px;font-family:'Liberation Sans', sans-serif;left:954px;top:157px;transform:translate(0.000px,0.457px);width:120px;text-align:center;">Jan 24, 2025</div>
<div class="t" style="font-size:12.60px;color:#64748b;letter-spacing:0.000px;font-family:'Liberation Sans', sans-serif;left:1090px;top:157px;transform:translate(0.800px,0.457px);width:120px;text-align:center;">Jan 26, 2025</div>
<div class="t" style="font-size:12.60px;color:#64748b;letter-spacing:0.000px;font-family:'Liberation Sans', sans-serif;left:1227px;top:157px;transform:translate(0.600px,0.457px);width:120px;text-align:center;">Jan 28, 2025</div>
<div class="t" style="font-size:12.60px;color:#64748b;letter-spacing:0.000px;font-family:'Liberation Sans', sans-serif;left:1370px;top:157px;transform:translate(0.800px,0.457px);width:120px;text-align:center;">Jan 30, 2025</div>
<div class="b" style="left:288px;top:189px;width:1200px;height:40px;background:#f8fafc"></div>
<div class="b" style="left:288px;top:189px;width:1200px;height:1px;background:#e2e8f0"></div>
<div class="b" style="left:288px;top:228px;width:1200px;height:1px;background:#e2e8f0"></div>
<div class="b" style="left:319px;top:189px;width:1px;height:836px;background:#e2e8f0"></div>
<div class="b" style="left:556px;top:189px;width:1px;height:836px;background:#e2e8f0"></div>
<div class="b" style="left:627px;top:189px;width:1px;height:836px;background:#e2e8f0"></div>
<div class="b" style="left:709px;top:189px;width:1px;height:836px;background:#e2e8f0"></div>
<div class="b" style="left:857px;top:189px;width:1px;height:836px;background:#e2e8f0"></div>
<div class="b" style="left:1010px;top:189px;transform:translate(0.500px,0.000px);width:1px;height:836px;background:#e2e8f0"></div>
<div class="b" style="left:1141px;top:189px;width:1px;height:836px;background:#e2e8f0"></div>
<div class="b" style="left:1334px;top:189px;width:1px;height:836px;background:#e2e8f0"></div>
<div class="t" style="font-size:14.70px;color:#64748b;letter-spacing:0.000px;font-family:'Liberation Sans', sans-serif;left:327px;top:202px;transform:translate(0.800px,0.829px);">Date</div>
<div class="t" style="font-size:14.70px;color:#64748b;letter-spacing:0.000px;font-family:'Liberation Sans', sans-serif;left:565px;top:202px;transform:translate(0.000px,0.829px);">Status</div>
<div class="t" style="font-size:14.70px;color:#64748b;letter-spacing:0.000px;font-family:'Liberation Sans', sans-serif;left:636px;top:202px;transform:translate(0.200px,0.829px);">Method</div>
<div class="t" style="font-size:14.70px;color:#64748b;letter-spacing:0.000px;font-family:'Liberation Sans', sans-serif;left:717px;top:202px;transform:translate(0.800px,0.829px);">Host</div>
<div class="t" style="font-size:14.70px;color:#64748b;letter-spacing:0.000px;font-family:'Liberation Sans', sans-serif;left:866px;top:202px;transform:translate(0.000px,0.829px);">Pathname</div>
<div class="t" style="font-size:14.70px;color:#64748b;letter-spacing:0.000px;font-family:'Liberation Sans', sans-serif;left:1019px;top:202px;transform:translate(0.500px,0.829px);">Latency</div>
<div class="t" style="font-size:14.70px;color:#64748b;letter-spacing:0.000px;font-family:'Liberation Sans', sans-serif;left:1150px;top:202px;transform:translate(0.200px,0.829px);">Region</div>
<div class="t" style="font-size:14.70px;color:#64748b;letter-spacing:0.000px;font-family:'Liberation Sans', sans-serif;left:1343px;top:202px;transform:translate(0.300px,0.829px);">Timing Phases</div>
<svg class="ic" style="left:534px;top:201px;" width="16" height="16" viewBox="0 0 24 24" fill="none" stroke="#64748b" stroke-width="1.5" stroke-linecap="round" stroke-linejoin="round"><path d="m7 15 5 5 5-5"/><path d="m7 9 5-5 5 5"/></svg>
<svg class="ic" style="left:1119px;top:201px;transform:translate(0.500px,0.000px);" width="16" height="16" viewBox="0 0 24 24" fill="none" stroke="#64748b" stroke-width="1.5" stroke-linecap="round" stroke-linejoin="round"><path d="m7 15 5 5 5-5"/><path d="m7 9 5-5 5 5"/></svg>
<div class="b" style="left:288px;top:265px;width:1200px;height:1px;background:#e2e8f0"></div>
<div class="b" style="left:298px;top:242px;transform:translate(0.000px,0.200px);width:10px;height:10px;background:#f1f5f9;border-radius:2px"></div>
<div class="t" style="font-size:14.49px;color:#020617;letter-spacing:-0.266px;font-family:'Liberation Mono', monospace;left:327px;top:241px;transform:translate(0.400px,0.524px);">Jan 30, 2025 14:04:10</div>
<div class="t" style="font-size:14.49px;color:#22c55e;letter-spacing:-0.266px;font-family:'Liberation Mono', monospace;left:565px;top:241px;transform:translate(0.000px,0.524px);">200</div>
<div class="t" style="font-size:14.49px;color:#64748b;letter-spacing:-0.266px;font-family:'Liberation Mono', monospace;left:636px;top:241px;transform:translate(0.200px,0.524px);">POST</div>
<div class="t" style="font-size:14.49px;color:#020617;letter-spacing:-0.266px;font-family:'Liberation Mono', monospace;left:717px;top:241px;transform:translate(0.800px,0.524px);">api.acme–shop.…</div>
<div class="t" style="font-size:14.49px;color:#020617;letter-spacing:-0.266px;font-family:'Liberation Mono', monospace;left:866px;top:241px;transform:translate(0.000px,0.524px);">/v1/customers</div>
<div class="t" style="font-size:14.49px;color:#020617;letter-spacing:-0.266px;font-family:'Liberation Mono', monospace;left:1019px;top:241px;transform:translate(0.500px,0.524px);">1,000<span style="color:#64748b">ms</span></div>
<div class="t" style="font-size:14.49px;color:#020617;letter-spacing:-0.266px;font-family:'Liberation Mono', monospace;left:1150px;top:241px;transform:translate(0.200px,0.524px);">ams <span style="color:#64748b;font-size:12.42px;letter-spacing:-0.228px">Amsterdam</span></div>
<div class="b" style="left:1343px;top:239px;width:138px;height:16px;background:linear-gradient(to right,#72cfa0 0 19.5px,#72cbe0 19.5px 46.0px,#78a6f8 46.0px 59.0px,#ad8bfb 59.0px)"></div>
<div class="b" style="left:288px;top:302px;width:1200px;height:1px;background:#e2e8f0"></div>
<div class="b" style="left:298px;top:279px;transform:translate(0.000px,0.200px);width:10px;height:10px;background:#f1f5f9;border-radius:2px"></div>
<div class="t" style="font-size:14.49px;color:#020617;letter-spacing:-0.266px;font-family:'Liberation Mono', monospace;left:327px;top:278px;transform:translate(0.400px,0.524px);">Jan 30, 2025 14:04:10</div>
<div class="t" style="font-size:14.49px;color:#22c55e;letter-spacing:-0.266px;font-family:'Liberation Mono', monospace;left:565px;top:278px;transform:translate(0.000px,0.524px);">200</div>
<div class="t" style="font-size:14.49px;color:#64748b;letter-spacing:-0.266px;font-family:'Liberation Mono', monospace;left:636px;top:278px;transform:translate(0.200px,0.524px);">POST</div>
<div class="t" style="font-size:14.49px;color:#020617;letter-spacing:-0.266px;font-family:'Liberation Mono', monospace;left:717px;top:278px;transform:translate(0.800px,0.524px);">api.acme–shop.…</div>
<div class="t" style="font-size:14.49px;color:#020617;letter-spacing:-0.266px;font-family:'Liberation Mono', monospace;left:866px;top:278px;transform:translate(0.000px,0.524px);">/v1/customers</div>
<div class="t" style="font-size:14.49px;color:#020617;letter-spacing:-0.266px;font-family:'Liberation Mono', monospace;left:1019px;top:278px;transform:translate(0.500px,0.524px);">770<span style="color:#64748b">ms</span></div>
<div class="t" style="font-size:14.49px;color:#020617;letter-spacing:-0.266px;font-family:'Liberation Mono', monospace;left:1150px;top:278px;transform:translate(0.200px,0.524px);">iad <span style="color:#64748b;font-size:12.42px;letter-spacing:-0.228px">Washington D.C.</span></div>
<div class="b" style="left:1343px;top:276px;width:138px;height:16px;background:linear-gradient(to right,#72cfa0 0 19.0px,#72cbe0 19.0px 49.5px,#78a6f8 49.5px 56.5px,#ad8bfb 56.5px)"></div>
<div class="b" style="left:288px;top:339px;width:1200px;height:1px;background:#e2e8f0"></div>
<div class="b" style="left:298px;top:316px;transform:translate(0.000px,0.200px);width:10px;height:10px;background:#f1f5f9;border-radius:2px"></div>
<div class="t" style="font-size:14.49px;color:#020617;letter-spacing:-0.266px;font-family:'Liberation Mono', monospace;left:327px;top:315px;transform:translate(0.400px,0.524px);">Jan 30, 2025 14:04:10</div>
<div class="t" style="font-size:14.49px;color:#22c55e;letter-spacing:-0.266px;font-family:'Liberation Mono', monospace;left:565px;top:315px;transform:translate(0.000px,0.524px);">200</div>
<div class="t" style="font-size:14.49px;color:#64748b;letter-spacing:-0.266px;font-family:'Liberation Mono', monospace;left:636px;top:315px;transform:translate(0.200px,0.524px);">POST</div>
<div class="t" style="font-size:14.49px;color:#020617;letter-spacing:-0.266px;font-family:'Liberation Mono', monospace;left:717px;top:315px;transform:translate(0.800px,0.524px);">api.acme–shop.…</div>
<div class="t" style="font-size:14.49px;color:#020617;letter-spacing:-0.266px;font-family:'Liberation Mono', monospace;left:866px;top:315px;transform:translate(0.000px,0.524px);">/v1/customers</div>
<div class="t" style="font-size:14.49px;color:#020617;letter-spacing:-0.266px;font-family:'Liberation Mono', monospace;left:1019px;top:315px;transform:translate(0.500px,0.524px);">1,345<span style="color:#64748b">ms</span></div>
<div class="t" style="font-size:14.49px;color:#020617;letter-spacing:-0.266px;font-family:'Liberation Mono', monospace;left:1150px;top:315px;transform:translate(0.200px,0.524px);">gru <span style="color:#64748b;font-size:12.42px;letter-spacing:-0.228px">Sao Paulo</span></div>
<div class="b" style="left:1343px;top:313px;width:138px;height:16px;background:linear-gradient(to right,#72cfa0 0 12.0px,#72cbe0 12.0px 49.0px,#78a6f8 49.0px 56.0px,#ad8bfb 56.0px)"></div>
<div class="b" style="left:288px;top:376px;width:1200px;height:1px;background:#e2e8f0"></div>
<div class="b" style="left:298px;top:353px;transform:translate(0.000px,0.200px);width:10px;height:10px;background:#f1f5f9;border-radius:2px"></div>
<div class="t" style="font-size:14.49px;color:#020617;letter-spacing:-0.266px;font-family:'Liberation Mono', monospace;left:327px;top:352px;transform:translate(0.400px,0.524px);">Jan 30, 2025 14:04:10</div>
<div class="t" style="font-size:14.49px;color:#22c55e;letter-spacing:-0.266px;font-family:'Liberation Mono', monospace;left:565px;top:352px;transform:translate(0.000px,0.524px);">200</div>
<div class="t" style="font-size:14.49px;color:#64748b;letter-spacing:-0.266px;font-family:'Liberation Mono', monospace;left:636px;top:352px;transform:translate(0.200px,0.524px);">POST</div>
<div class="t" style="font-size:14.49px;color:#020617;letter-spacing:-0.266px;font-family:'Liberation Mono', monospace;left:717px;top:352px;transform:translate(0.800px,0.524px);">api.acme–shop.…</div>
<div class="t" style="font-size:14.49px;color:#020617;letter-spacing:-0.266px;font-family:'Liberation Mono', monospace;left:866px;top:352px;transform:translate(0.000px,0.524px);">/v1/customers</div>
<div class="t" style="font-size:14.49px;color:#020617;letter-spacing:-0.266px;font-family:'Liberation Mono', monospace;left:1019px;top:352px;transform:translate(0.500px,0.524px);">1,172<span style="color:#64748b">ms</span></div>
<div class="t" style="font-size:14.49px;color:#020617;letter-spacing:-0.266px;font-family:'Liberation Mono', monospace;left:1150px;top:352px;transform:translate(0.200px,0.524px);">syd <span style="color:#64748b;font-size:12.42px;letter-spacing:-0.228px">Sydney</span></div>
<div class="b" style="left:1343px;top:350px;width:138px;height:16px;background:linear-gradient(to right,#72cfa0 0 13.0px,#72cbe0 13.0px 44.0px,#78a6f8 44.0px 51.5px,#ad8bfb 51.5px)"></div>
<div class="b" style="left:288px;top:413px;width:1200px;height:1px;background:#e2e8f0"></div>
<div class="b" style="left:298px;top:390px;transform:translate(0.000px,0.200px);width:10px;height:10px;background:#f1f5f9;border-radius:2px"></div>
<div class="t" style="font-size:14.49px;color:#020617;letter-spacing:-0.266px;font-family:'Liberation Mono', monospace;left:327px;top:389px;transform:translate(0.400px,0.524px);">Jan 30, 2025 14:04:10</div>
<div class="t" style="font-size:14.49px;color:#22c55e;letter-spacing:-0.266px;font-family:'Liberation Mono', monospace;left:565px;top:389px;transform:translate(0.000px,0.524px);">200</div>
<div class="t" style="font-size:14.49px;color:#64748b;letter-spacing:-0.266px;font-family:'Liberation Mono', monospace;left:636px;top:389px;transform:translate(0.200px,0.524px);">POST</div>
<div class="t" style="font-size:14.49px;color:#020617;letter-spacing:-0.266px;font-family:'Liberation Mono', monospace;left:717px;top:389px;transform:translate(0.800px,0.524px);">api.acme–shop.…</div>
<div class="t" style="font-size:14.49px;color:#020617;letter-spacing:-0.266px;font-family:'Liberation Mono', monospace;left:866px;top:389px;transform:translate(0.000px,0.524px);">/v1/customers</div>
<div class="t" style="font-size:14.49px;color:#020617;letter-spacing:-0.266px;font-family:'Liberation Mono', monospace;left:1019px;top:389px;transform:translate(0.500px,0.524px);">885<span style="color:#64748b">ms</span></div>
<div class="t" style="font-size:14.49px;color:#020617;letter-spacing:-0.266px;font-family:'Liberation Mono', monospace;left:1150px;top:389px;transform:translate(0.200px,0.524px);">fra <span style="color:#64748b;font-size:12.42px;letter-spacing:-0.228px">Frankfurt</span></div>
<div class="b" style="left:1343px;top:387px;width:138px;height:16px;background:linear-gradient(to right,#72cfa0 0 8.0px,#72cbe0 8.0px 23.5px,#78a6f8 23.5px 31.0px,#ad8bfb 31.0px)"></div>
<div class="b" style="left:288px;top:450px;width:1200px;height:1px;background:#e2e8f0"></div>
<div class="b" style="left:298px;top:427px;transform:translate(0.000px,0.200px);width:10px;height:10px;background:#f1f5f9;border-radius:2px"></div>
<div class="t" style="font-size:14.49px;color:#020617;letter-spacing:-0.266px;font-family:'Liberation Mono', monospace;left:327px;top:426px;transform:translate(0.400px,0.524px);">Jan 30, 2025 14:04:10</div>
<div class="t" style="font-size:14.49px;color:#22c55e;letter-spacing:-0.266px;font-family:'Liberation Mono', monospace;left:565px;top:426px;transform:translate(0.000px,0.524px);">200</div>
<div class="t" style="font-size:14.49px;color:#64748b;letter-spacing:-0.266px;font-family:'Liberation Mono', monospace;left:636px;top:426px;transform:translate(0.200px,0.524px);">POST</div>
<div class="t" style="font-size:14.49px;color:#020617;letter-spacing:-0.266px;font-family:'Liberation Mono', monospace;left:717px;top:426px;transform:translate(0.800px,0.524px);">api.acme–shop.…</div>
<div class="t" style="font-size:14.49px;color:#020617;letter-spacing:-0.266px;font-family:'Liberation Mono', monospace;left:866px;top:426px;transform:translate(0.000px,0.524px);">/v1/customers</div>
<div class="t" style="font-size:14.49px;color:#020617;letter-spacing:-0.266px;font-family:'Liberation Mono', monospace;left:1019px;top:426px;transform:translate(0.500px,0.524px);">1,230<span style="color:#64748b">ms</span></div>
<div class="t" style="font-size:14.49px;color:#020617;letter-spacing:-0.266px;font-family:'Liberation Mono', monospace;left:1150px;top:426px;transform:translate(0.200px,0.524px);">hkg <span style="color:#64748b;font-size:12.42px;letter-spacing:-0.228px">Hong Kong</span></div>
<div class="b" style="left:1343px;top:424px;width:138px;height:16px;background:linear-gradient(to right,#72cfa0 0 7.0px,#72cbe0 7.0px 39.5px,#78a6f8 39.5px 48.5px,#ad8bfb 48.5px)"></div>
<div class="b" style="left:288px;top:487px;width:1200px;height:1px;background:#e2e8f0"></div>
<div class="b" style="left:298px;top:464px;transform:translate(0.000px,0.200px);width:10px;height:10px;background:#f1f5f9;border-radius:2px"></div>
<div class="t" style="font-size:14.49px;color:#020617;letter-spacing:-0.266px;font-family:'Liberation Mono', monospace;left:327px;top:463px;transform:translate(0.400px,0.524px);">Jan 30, 2025 13:04:10</div>
<div class="t" style="font-size:14.49px;color:#22c55e;letter-spacing:-0.266px;font-family:'Liberation Mono', monospace;left:565px;top:463px;transform:translate(0.000px,0.524px);">200</div>
<div class="t" style="font-size:14.49px;color:#64748b;letter-spacing:-0.266px;font-family:'Liberation Mono', monospace;left:636px;top:463px;transform:translate(0.200px,0.524px);">POST</div>
<div class="t" style="font-size:14.49px;color:#020617;letter-spacing:-0.266px;font-family:'Liberation Mono', monospace;left:717px;top:463px;transform:translate(0.800px,0.524px);">api.acme–shop.…</div>
<div class="t" style="font-size:14.49px;color:#020617;letter-spacing:-0.266px;font-family:'Liberation Mono', monospace;left:866px;top:463px;transform:translate(0.000px,0.524px);">/v1/customers</div>
<div class="t" style="font-size:14.49px;color:#020617;letter-spacing:-0.266px;font-family:'Liberation Mono', monospace;left:1019px;top:463px;transform:translate(0.500px,0.524px);">1,000<span style="color:#64748b">ms</span></div>
<div class="t" style="font-size:14.49px;color:#020617;letter-spacing:-0.266px;font-family:'Liberation Mono', monospace;left:1150px;top:463px;transform:translate(0.200px,0.524px);">ams <span style="color:#64748b;font-size:12.42px;letter-spacing:-0.228px">Amsterdam</span></div>
<div class="b" style="left:1343px;top:461px;width:138px;height:16px;background:linear-gradient(to right,#72cfa0 0 8.5px,#72cbe0 8.5px 46.5px,#78a6f8 46.5px 54.5px,#ad8bfb 54.5px)"></div>
<div class="b" style="left:288px;top:488px;width:1200px;height:36px;background:#fef6f6"></div>
<div class="b" style="left:288px;top:524px;width:1200px;height:1px;background:#e2e8f0"></div>
<div class="b" style="left:298px;top:501px;transform:translate(0.000px,0.200px);width:10px;height:10px;background:#f97316;border-radius:2px"></div>
<div class="t" style="font-size:14.49px;color:#020617;letter-spacing:-0.266px;font-family:'Liberation Mono', monospace;left:327px;top:500px;transform:translate(0.400px,0.524px);">Jan 30, 2025 13:04:10</div>
<div class="t" style="font-size:14.49px;color:#f97316;letter-spacing:-0.266px;font-family:'Liberation Mono', monospace;left:565px;top:500px;transform:translate(0.000px,0.524px);">404</div>
<div class="t" style="font-size:14.49px;color:#64748b;letter-spacing:-0.266px;font-family:'Liberation Mono', monospace;left:636px;top:500px;transform:translate(0.200px,0.524px);">POST</div>
<div class="t" style="font-size:14.49px;color:#020617;letter-spacing:-0.266px;font-family:'Liberation Mono', monospace;left:717px;top:500px;transform:translate(0.800px,0.524px);">api.acme–shop.…</div>
<div class="t" style="font-size:14.49px;color:#020617;letter-spacing:-0.266px;font-family:'Liberation Mono', monospace;left:866px;top:500px;transform:translate(0.000px,0.524px);">/v1/customers</div>
<div class="t" style="font-size:14.49px;color:#020617;letter-spacing:-0.266px;font-family:'Liberation Mono', monospace;left:1019px;top:500px;transform:translate(0.500px,0.524px);">772<span style="color:#64748b">ms</span></div>
<div class="t" style="font-size:14.49px;color:#020617;letter-spacing:-0.266px;font-family:'Liberation Mono', monospace;left:1150px;top:500px;transform:translate(0.200px,0.524px);">iad <span style="color:#64748b;font-size:12.42px;letter-spacing:-0.228px">Washington D.C.</span></div>
<div class="b" style="left:1343px;top:498px;width:138px;height:16px;background:linear-gradient(to right,#72cfa0 0 19.5px,#72cbe0 19.5px 59.0px,#78a6f8 59.0px 72.0px,#ad8bfb 72.0px)"></div>
<div class="b" style="left:288px;top:561px;width:1200px;height:1px;background:#e2e8f0"></div>
<div class="b" style="left:298px;top:538px;transform:translate(0.000px,0.200px);width:10px;height:10px;background:#f1f5f9;border-radius:2px"></div>
<div class="t" style="font-size:14.49px;color:#020617;letter-spacing:-0.266px;font-family:'Liberation Mono', monospace;left:327px;top:537px;transform:translate(0.400px,0.524px);">Jan 30, 2025 13:04:10</div>
<div class="t" style="font-size:14.49px;color:#22c55e;letter-spacing:-0.266px;font-family:'Liberation Mono', monospace;left:565px;top:537px;transform:translate(0.000px,0.524px);">200</div>
<div class="t" style="font-size:14.49px;color:#64748b;letter-spacing:-0.266px;font-family:'Liberation Mono', monospace;left:636px;top:537px;transform:translate(0.200px,0.524px);">POST</div>
<div class="t" style="font-size:14.49px;color:#020617;letter-spacing:-0.266px;font-family:'Liberation Mono', monospace;left:717px;top:537px;transform:translate(0.800px,0.524px);">api.acme–shop.…</div>
<div class="t" style="font-size:14.49px;color:#020617;letter-spacing:-0.266px;font-family:'Liberation Mono', monospace;left:866px;top:537px;transform:translate(0.000px,0.524px);">/v1/customers</div>
<div class="t" style="font-size:14.49px;color:#020617;letter-spacing:-0.266px;font-family:'Liberation Mono', monospace;left:1019px;top:537px;transform:translate(0.500px,0.524px);">1,342<span style="color:#64748b">ms</span></div>
<div class="t" style="font-size:14.49px;color:#020617;letter-spacing:-0.266px;font-family:'Liberation Mono', monospace;left:1150px;top:537px;transform:translate(0.200px,0.524px);">gru <span style="color:#64748b;font-size:12.42px;letter-spacing:-0.228px">Sao Paulo</span></div>
<div class="b" style="left:1343px;top:535px;width:138px;height:16px;background:linear-gradient(to right,#72cfa0 0 15.5px,#72cbe0 15.5px 45.5px,#78a6f8 45.5px 55.5px,#ad8bfb 55.5px)"></div>
<div class="b" style="left:288px;top:598px;width:1200px;height:1px;background:#e2e8f0"></div>
<div class="b" style="left:298px;top:575px;transform:translate(0.000px,0.200px);width:10px;height:10px;background:#f1f5f9;border-radius:2px"></div>
<div class="t" style="font-size:14.49px;color:#020617;letter-spacing:-0.266px;font-family:'Liberation Mono', monospace;left:327px;top:574px;transform:translate(0.400px,0.524px);">Jan 30, 2025 13:04:10</div>
<div class="t" style="font-size:14.49px;color:#22c55e;letter-spacing:-0.266px;font-family:'Liberation Mono', monospace;left:565px;top:574px;transform:translate(0.000px,0.524px);">200</div>
<div class="t" style="font-size:14.49px;color:#64748b;letter-spacing:-0.266px;font-family:'Liberation Mono', monospace;left:636px;top:574px;transform:translate(0.200px,0.524px);">POST</div>
<div class="t" style="font-size:14.49px;color:#020617;letter-spacing:-0.266px;font-family:'Liberation Mono', monospace;left:717px;top:574px;transform:translate(0.800px,0.524px);">api.acme–shop.…</div>
<div class="t" style="font-size:14.49px;color:#020617;letter-spacing:-0.266px;font-family:'Liberation Mono', monospace;left:866px;top:574px;transform:translate(0.000px,0.524px);">/v1/customers</div>
<div class="t" style="font-size:14.49px;color:#020617;letter-spacing:-0.266px;font-family:'Liberation Mono', monospace;left:1019px;top:574px;transform:translate(0.500px,0.524px);">1,171<span style="color:#64748b">ms</span></div>
<div class="t" style="font-size:14.49px;color:#020617;letter-spacing:-0.266px;font-family:'Liberation Mono', monospace;left:1150px;top:574px;transform:translate(0.200px,0.524px);">syd <span style="color:#64748b;font-size:12.42px;letter-spacing:-0.228px">Sydney</span></div>
<div class="b" style="left:1343px;top:572px;width:138px;height:16px;background:linear-gradient(to right,#72cfa0 0 16.5px,#72cbe0 16.5px 36.0px,#78a6f8 36.0px 49.5px,#ad8bfb 49.5px)"></div>
<div class="b" style="left:288px;top:635px;width:1200px;height:1px;background:#e2e8f0"></div>
<div class="b" style="left:298px;top:612px;transform:translate(0.000px,0.200px);width:10px;height:10px;background:#f1f5f9;border-radius:2px"></div>
<div class="t" style="font-size:14.49px;color:#020617;letter-spacing:-0.266px;font-family:'Liberation Mono', monospace;left:327px;top:611px;transform:translate(0.400px,0.524px);">Jan 30, 2025 13:04:10</div>
<div class="t" style="font-size:14.49px;color:#22c55e;letter-spacing:-0.266px;font-family:'Liberation Mono', monospace;left:565px;top:611px;transform:translate(0.000px,0.524px);">200</div>
<div class="t" style="font-size:14.49px;color:#64748b;letter-spacing:-0.266px;font-family:'Liberation Mono', monospace;left:636px;top:611px;transform:translate(0.200px,0.524px);">POST</div>
<div class="t" style="font-size:14.49px;color:#020617;letter-spacing:-0.266px;font-family:'Liberation Mono', monospace;left:717px;top:611px;transform:translate(0.800px,0.524px);">api.acme–shop.…</div>
<div class="t" style="font-size:14.49px;color:#020617;letter-spacing:-0.266px;font-family:'Liberation Mono', monospace;left:866px;top:611px;transform:translate(0.000px,0.524px);">/v1/customers</div>
<div class="t" style="font-size:14.49px;color:#020617;letter-spacing:-0.266px;font-family:'Liberation Mono', monospace;left:1019px;top:611px;transform:translate(0.500px,0.524px);">886<span style="color:#64748b">ms</span></div>
<div class="t" style="font-size:14.49px;color:#020617;letter-spacing:-0.266px;font-family:'Liberation Mono', monospace;left:1150px;top:611px;transform:translate(0.200px,0.524px);">fra <span style="color:#64748b;font-size:12.42px;letter-spacing:-0.228px">Frankfurt</span></div>
<div class="b" style="left:1343px;top:609px;width:138px;height:16px;background:linear-gradient(to right,#72cfa0 0 13.0px,#72cbe0 13.0px 33.0px,#78a6f8 33.0px 43.5px,#ad8bfb 43.5px)"></div>
<div class="b" style="left:288px;top:636px;width:1200px;height:36px;background:#fef6f6"></div>
<div class="b" style="left:288px;top:672px;width:1200px;height:1px;background:#e2e8f0"></div>
<div class="b" style="left:298px;top:649px;transform:translate(0.000px,0.200px);width:10px;height:10px;background:#ef4444;border-radius:2px"></div>
<div class="t" style="font-size:14.49px;color:#020617;letter-spacing:-0.266px;font-family:'Liberation Mono', monospace;left:327px;top:648px;transform:translate(0.400px,0.524px);">Jan 30, 2025 13:04:10</div>
<div class="t" style="font-size:14.49px;color:#ef4444;letter-spacing:-0.266px;font-family:'Liberation Mono', monospace;left:565px;top:648px;transform:translate(0.000px,0.524px);">500</div>
<div class="t" style="font-size:14.49px;color:#64748b;letter-spacing:-0.266px;font-family:'Liberation Mono', monospace;left:636px;top:648px;transform:translate(0.200px,0.524px);">POST</div>
<div class="t" style="font-size:14.49px;color:#020617;letter-spacing:-0.266px;font-family:'Liberation Mono', monospace;left:717px;top:648px;transform:translate(0.800px,0.524px);">api.acme–shop.…</div>
<div class="t" style="font-size:14.49px;color:#020617;letter-spacing:-0.266px;font-family:'Liberation Mono', monospace;left:866px;top:648px;transform:translate(0.000px,0.524px);">/v1/customers</div>
<div class="t" style="font-size:14.49px;color:#020617;letter-spacing:-0.266px;font-family:'Liberation Mono', monospace;left:1019px;top:648px;transform:translate(0.500px,0.524px);">1,228<span style="color:#64748b">ms</span></div>
<div class="t" style="font-size:14.49px;color:#020617;letter-spacing:-0.266px;font-family:'Liberation Mono', monospace;left:1150px;top:648px;transform:translate(0.200px,0.524px);">hkg <span style="color:#64748b;font-size:12.42px;letter-spacing:-0.228px">Hong Kong</span></div>
<div class="b" style="left:1343px;top:646px;width:138px;height:16px;background:linear-gradient(to right,#72cfa0 0 14.0px,#72cbe0 14.0px 45.5px,#78a6f8 45.5px 59.0px,#ad8bfb 59.0px)"></div>
<div class="b" style="left:288px;top:709px;width:1200px;height:1px;background:#e2e8f0"></div>
<div class="b" style="left:298px;top:686px;transform:translate(0.000px,0.200px);width:10px;height:10px;background:#f1f5f9;border-radius:2px"></div>
<div class="t" style="font-size:14.49px;color:#020617;letter-spacing:-0.266px;font-family:'Liberation Mono', monospace;left:327px;top:685px;transform:translate(0.400px,0.524px);">Jan 30, 2025 12:04:10</div>
<div class="t" style="font-size:14.49px;color:#22c55e;letter-spacing:-0.266px;font-family:'Liberation Mono', monospace;left:565px;top:685px;transform:translate(0.000px,0.524px);">200</div>
<div class="t" style="font-size:14.49px;color:#64748b;letter-spacing:-0.266px;font-family:'Liberation Mono', monospace;left:636px;top:685px;transform:translate(0.200px,0.524px);">GET</div>
<div class="t" style="font-size:14.49px;color:#020617;letter-spacing:-0.266px;font-family:'Liberation Mono', monospace;left:717px;top:685px;transform:translate(0.800px,0.524px);">acme–shop.com</div>
<div class="t" style="font-size:14.49px;color:#020617;letter-spacing:-0.266px;font-family:'Liberation Mono', monospace;left:866px;top:685px;transform:translate(0.000px,0.524px);">/bikes/city/car…</div>
<div class="t" style="font-size:14.49px;color:#020617;letter-spacing:-0.266px;font-family:'Liberation Mono', monospace;left:1019px;top:685px;transform:translate(0.500px,0.524px);">1,000<span style="color:#64748b">ms</span></div>
<div class="t" style="font-size:14.49px;color:#020617;letter-spacing:-0.266px;font-family:'Liberation Mono', monospace;left:1150px;top:685px;transform:translate(0.200px,0.524px);">ams <span style="color:#64748b;font-size:12.42px;letter-spacing:-0.228px">Amsterdam</span></div>
<div class="b" style="left:1343px;top:683px;width:138px;height:16px;background:linear-gradient(to right,#72cfa0 0 20.5px,#72cbe0 20.5px 60.5px,#78a6f8 60.5px 73.0px,#ad8bfb 73.0px)"></div>
<div class="b" style="left:288px;top:746px;width:1200px;height:1px;background:#e2e8f0"></div>
<div class="b" style="left:298px;top:723px;transform:translate(0.000px,0.200px);width:10px;height:10px;background:#f1f5f9;border-radius:2px"></div>
<div class="t" style="font-size:14.49px;color:#020617;letter-spacing:-0.266px;font-family:'Liberation Mono', monospace;left:327px;top:722px;transform:translate(0.400px,0.524px);">Jan 30, 2025 12:04:10</div>
<div class="t" style="font-size:14.49px;color:#22c55e;letter-spacing:-0.266px;font-family:'Liberation Mono', monospace;left:565px;top:722px;transform:translate(0.000px,0.524px);">200</div>
<div class="t" style="font-size:14.49px;color:#64748b;letter-spacing:-0.266px;font-family:'Liberation Mono', monospace;left:636px;top:722px;transform:translate(0.200px,0.524px);">GET</div>
<div class="t" style="font-size:14.49px;color:#020617;letter-spacing:-0.266px;font-family:'Liberation Mono', monospace;left:717px;top:722px;transform:translate(0.800px,0.524px);">acme–shop.com</div>
<div class="t" style="font-size:14.49px;color:#020617;letter-spacing:-0.266px;font-family:'Liberation Mono', monospace;left:866px;top:722px;transform:translate(0.000px,0.524px);">/bikes/city/car…</div>
<div class="t" style="font-size:14.49px;color:#020617;letter-spacing:-0.266px;font-family:'Liberation Mono', monospace;left:1019px;top:722px;transform:translate(0.500px,0.524px);">668<span style="color:#64748b">ms</span></div>
<div class="t" style="font-size:14.49px;color:#020617;letter-spacing:-0.266px;font-family:'Liberation Mono', monospace;left:1150px;top:722px;transform:translate(0.200px,0.524px);">iad <span style="color:#64748b;font-size:12.42px;letter-spacing:-0.228px">Washington D.C.</span></div>
<div class="b" style="left:1343px;top:720px;width:138px;height:16px;background:linear-gradient(to right,#72cfa0 0 8.5px,#72cbe0 8.5px 34.5px,#78a6f8 34.5px 45.0px,#ad8bfb 45.0px)"></div>
<div class="b" style="left:288px;top:783px;width:1200px;height:1px;background:#e2e8f0"></div>
<div class="b" style="left:298px;top:760px;transform:translate(0.000px,0.200px);width:10px;height:10px;background:#f1f5f9;border-radius:2px"></div>
<div class="t" style="font-size:14.49px;color:#020617;letter-spacing:-0.266px;font-family:'Liberation Mono', monospace;left:327px;top:759px;transform:translate(0.400px,0.524px);">Jan 30, 2025 12:04:10</div>
<div class="t" style="font-size:14.49px;color:#22c55e;letter-spacing:-0.266px;font-family:'Liberation Mono', monospace;left:565px;top:759px;transform:translate(0.000px,0.524px);">200</div>
<div class="t" style="font-size:14.49px;color:#64748b;letter-spacing:-0.266px;font-family:'Liberation Mono', monospace;left:636px;top:759px;transform:translate(0.200px,0.524px);">GET</div>
<div class="t" style="font-size:14.49px;color:#020617;letter-spacing:-0.266px;font-family:'Liberation Mono', monospace;left:717px;top:759px;transform:translate(0.800px,0.524px);">acme–shop.com</div>
<div class="t" style="font-size:14.49px;color:#020617;letter-spacing:-0.266px;font-family:'Liberation Mono', monospace;left:866px;top:759px;transform:translate(0.000px,0.524px);">/bikes/city/car…</div>
<div class="t" style="font-size:14.49px;color:#020617;letter-spacing:-0.266px;font-family:'Liberation Mono', monospace;left:1019px;top:759px;transform:translate(0.500px,0.524px);">1,498<span style="color:#64748b">ms</span></div>
<div class="t" style="font-size:14.49px;color:#020617;letter-spacing:-0.266px;font-family:'Liberation Mono', monospace;left:1150px;top:759px;transform:translate(0.200px,0.524px);">gru <span style="color:#64748b;font-size:12.42px;letter-spacing:-0.228px">Sao Paulo</span></div>
<div class="b" style="left:1343px;top:757px;width:138px;height:16px;background:linear-gradient(to right,#72cfa0 0 20.5px,#72cbe0 20.5px 53.0px,#78a6f8 53.0px 60.5px,#ad8bfb 60.5px)"></div>
<div class="b" style="left:288px;top:820px;width:1200px;height:1px;background:#e2e8f0"></div>
<div class="b" style="left:298px;top:797px;transform:translate(0.000px,0.200px);width:10px;height:10px;background:#f1f5f9;border-radius:2px"></div>
<div class="t" style="font-size:14.49px;color:#020617;letter-spacing:-0.266px;font-family:'Liberation Mono', monospace;left:327px;top:796px;transform:translate(0.400px,0.524px);">Jan 30, 2025 12:04:10</div>
<div class="t" style="font-size:14.49px;color:#22c55e;letter-spacing:-0.266px;font-family:'Liberation Mono', monospace;left:565px;top:796px;transform:translate(0.000px,0.524px);">200</div>
<div class="t" style="font-size:14.49px;color:#64748b;letter-spacing:-0.266px;font-family:'Liberation Mono', monospace;left:636px;top:796px;transform:translate(0.200px,0.524px);">GET</div>
<div class="t" style="font-size:14.49px;color:#020617;letter-spacing:-0.266px;font-family:'Liberation Mono', monospace;left:717px;top:796px;transform:translate(0.800px,0.524px);">acme–shop.com</div>
<div class="t" style="font-size:14.49px;color:#020617;letter-spacing:-0.266px;font-family:'Liberation Mono', monospace;left:866px;top:796px;transform:translate(0.000px,0.524px);">/bikes/city/car…</div>
<div class="t" style="font-size:14.49px;color:#020617;letter-spacing:-0.266px;font-family:'Liberation Mono', monospace;left:1019px;top:796px;transform:translate(0.500px,0.524px);">1,249<span style="color:#64748b">ms</span></div>
<div class="t" style="font-size:14.49px;color:#020617;letter-spacing:-0.266px;font-family:'Liberation Mono', monospace;left:1150px;top:796px;transform:translate(0.200px,0.524px);">syd <span style="color:#64748b;font-size:12.42px;letter-spacing:-0.228px">Sydney</span></div>
<div class="b" style="left:1343px;top:794px;width:138px;height:16px;background:linear-gradient(to right,#72cfa0 0 20.0px,#72cbe0 20.0px 46.5px,#78a6f8 46.5px 59.0px,#ad8bfb 59.0px)"></div>
<div class="b" style="left:288px;top:857px;width:1200px;height:1px;background:#e2e8f0"></div>
<div class="b" style="left:298px;top:834px;transform:translate(0.000px,0.200px);width:10px;height:10px;background:#f1f5f9;border-radius:2px"></div>
<div class="t" style="font-size:14.49px;color:#020617;letter-spacing:-0.266px;font-family:'Liberation Mono', monospace;left:327px;top:833px;transform:translate(0.400px,0.524px);">Jan 30, 2025 12:04:10</div>
<div class="t" style="font-size:14.49px;color:#22c55e;letter-spacing:-0.266px;font-family:'Liberation Mono', monospace;left:565px;top:833px;transform:translate(0.000px,0.524px);">200</div>
<div class="t" style="font-size:14.49px;color:#64748b;letter-spacing:-0.266px;font-family:'Liberation Mono', monospace;left:636px;top:833px;transform:translate(0.200px,0.524px);">GET</div>
<div class="t" style="font-size:14.49px;color:#020617;letter-spacing:-0.266px;font-family:'Liberation Mono', monospace;left:717px;top:833px;transform:translate(0.800px,0.524px);">acme–shop.com</div>
<div class="t" style="font-size:14.49px;color:#020617;letter-spacing:-0.266px;font-family:'Liberation Mono', monospace;left:866px;top:833px;transform:translate(0.000px,0.524px);">/bikes/city/car…</div>
<div class="t" style="font-size:14.49px;color:#020617;letter-spacing:-0.266px;font-family:'Liberation Mono', monospace;left:1019px;top:833px;transform:translate(0.500px,0.524px);">834<span style="color:#64748b">ms</span></div>
<div class="t" style="font-size:14.49px;color:#020617;letter-spacing:-0.266px;font-family:'Liberation Mono', monospace;left:1150px;top:833px;transform:translate(0.200px,0.524px);">fra <span style="color:#64748b;font-size:12.42px;letter-spacing:-0.228px">Frankfurt</span></div>
<div class="b" style="left:1343px;top:831px;width:138px;height:16px;background:linear-gradient(to right,#72cfa0 0 11.0px,#72cbe0 11.0px 27.5px,#78a6f8 27.5px 36.5px,#ad8bfb 36.5px)"></div>
<div class="b" style="left:288px;top:894px;width:1200px;height:1px;background:#e2e8f0"></div>
<div class="b" style="left:298px;top:871px;transform:translate(0.000px,0.200px);width:10px;height:10px;background:#f1f5f9;border-radius:2px"></div>
<div class="t" style="font-size:14.49px;color:#020617;letter-spacing:-0.266px;font-family:'Liberation Mono', monospace;left:327px;top:870px;transform:translate(0.400px,0.524px);">Jan 30, 2025 12:04:10</div>
<div class="t" style="font-size:14.49px;color:#22c55e;letter-spacing:-0.266px;font-family:'Liberation Mono', monospace;left:565px;top:870px;transform:translate(0.000px,0.524px);">200</div>
<div class="t" style="font-size:14.49px;color:#64748b;letter-spacing:-0.266px;font-family:'Liberation Mono', monospace;left:636px;top:870px;transform:translate(0.200px,0.524px);">GET</div>
<div class="t" style="font-size:14.49px;color:#020617;letter-spacing:-0.266px;font-family:'Liberation Mono', monospace;left:717px;top:870px;transform:translate(0.800px,0.524px);">acme–shop.com</div>
<div class="t" style="font-size:14.49px;color:#020617;letter-spacing:-0.266px;font-family:'Liberation Mono', monospace;left:866px;top:870px;transform:translate(0.000px,0.524px);">/bikes/city/car…</div>
<div class="t" style="font-size:14.49px;color:#020617;letter-spacing:-0.266px;font-family:'Liberation Mono', monospace;left:1019px;top:870px;transform:translate(0.500px,0.524px);">1,332<span style="color:#64748b">ms</span></div>
<div class="t" style="font-size:14.49px;color:#020617;letter-spacing:-0.266px;font-family:'Liberation Mono', monospace;left:1150px;top:870px;transform:translate(0.200px,0.524px);">hkg <span style="color:#64748b;font-size:12.42px;letter-spacing:-0.228px">Hong Kong</span></div>
<div class="b" style="left:1343px;top:868px;width:138px;height:16px;background:linear-gradient(to right,#72cfa0 0 14.0px,#72cbe0 14.0px 38.5px,#78a6f8 38.5px 49.5px,#ad8bfb 49.5px)"></div>
<div class="b" style="left:288px;top:931px;width:1200px;height:1px;background:#e2e8f0"></div>
<div class="b" style="left:298px;top:908px;transform:translate(0.000px,0.200px);width:10px;height:10px;background:#f1f5f9;border-radius:2px"></div>
<div class="t" style="font-size:14.49px;color:#020617;letter-spacing:-0.266px;font-family:'Liberation Mono', monospace;left:327px;top:907px;transform:translate(0.400px,0.524px);">Jan 30, 2025 11:04:10</div>
<div class="t" style="font-size:14.49px;color:#22c55e;letter-spacing:-0.266px;font-family:'Liberation Mono', monospace;left:565px;top:907px;transform:translate(0.000px,0.524px);">200</div>
<div class="t" style="font-size:14.49px;color:#64748b;letter-spacing:-0.266px;font-family:'Liberation Mono', monospace;left:636px;top:907px;transform:translate(0.200px,0.524px);">GET</div>
<div class="t" style="font-size:14.49px;color:#020617;letter-spacing:-0.266px;font-family:'Liberation Mono', monospace;left:717px;top:907px;transform:translate(0.800px,0.524px);">acme–shop.com</div>
<div class="t" style="font-size:14.49px;color:#020617;letter-spacing:-0.266px;font-family:'Liberation Mono', monospace;left:866px;top:907px;transform:translate(0.000px,0.524px);">/bikes/racing/t…</div>
<div class="t" style="font-size:14.49px;color:#020617;letter-spacing:-0.266px;font-family:'Liberation Mono', monospace;left:1019px;top:907px;transform:translate(0.500px,0.524px);">1,000<span style="color:#64748b">ms</span></div>
<div class="t" style="font-size:14.49px;color:#020617;letter-spacing:-0.266px;font-family:'Liberation Mono', monospace;left:1150px;top:907px;transform:translate(0.200px,0.524px);">ams <span style="color:#64748b;font-size:12.42px;letter-spacing:-0.228px">Amsterdam</span></div>
<div class="b" style="left:1343px;top:905px;width:138px;height:16px;background:linear-gradient(to right,#72cfa0 0 12.0px,#72cbe0 12.0px 30.5px,#78a6f8 30.5px 39.5px,#ad8bfb 39.5px)"></div>
<div class="b" style="left:288px;top:968px;width:1200px;height:1px;background:#e2e8f0"></div>
<div class="b" style="left:298px;top:945px;transform:translate(0.000px,0.200px);width:10px;height:10px;background:#f1f5f9;border-radius:2px"></div>
<div class="t" style="font-size:14.49px;color:#020617;letter-spacing:-0.266px;font-family:'Liberation Mono', monospace;left:327px;top:944px;transform:translate(0.400px,0.524px);">Jan 30, 2025 11:04:10</div>
<div class="t" style="font-size:14.49px;color:#22c55e;letter-spacing:-0.266px;font-family:'Liberation Mono', monospace;left:565px;top:944px;transform:translate(0.000px,0.524px);">200</div>
<div class="t" style="font-size:14.49px;color:#64748b;letter-spacing:-0.266px;font-family:'Liberation Mono', monospace;left:636px;top:944px;transform:translate(0.200px,0.524px);">GET</div>
<div class="t" style="font-size:14.49px;color:#020617;letter-spacing:-0.266px;font-family:'Liberation Mono', monospace;left:717px;top:944px;transform:translate(0.800px,0.524px);">acme–shop.com</div>
<div class="t" style="font-size:14.49px;color:#020617;letter-spacing:-0.266px;font-family:'Liberation Mono', monospace;left:866px;top:944px;transform:translate(0.000px,0.524px);">/bikes/racing/t…</div>
<div class="t" style="font-size:14.49px;color:#020617;letter-spacing:-0.266px;font-family:'Liberation Mono', monospace;left:1019px;top:944px;transform:translate(0.500px,0.524px);">857<span style="color:#64748b">ms</span></div>
<div class="t" style="font-size:14.49px;color:#020617;letter-spacing:-0.266px;font-family:'Liberation Mono', monospace;left:1150px;top:944px;transform:translate(0.200px,0.524px);">iad <span style="color:#64748b;font-size:12.42px;letter-spacing:-0.228px">Washington D.C.</span></div>
<div class="b" style="left:1343px;top:942px;width:138px;height:16px;background:linear-gradient(to right,#72cfa0 0 12.5px,#72cbe0 12.5px 51.5px,#78a6f8 51.5px 58.5px,#ad8bfb 58.5px)"></div>
<div class="b" style="left:288px;top:1005px;width:1200px;height:1px;background:#e2e8f0"></div>
<div class="b" style="left:298px;top:982px;transform:translate(0.000px,0.200px);width:10px;height:10px;background:#f1f5f9;border-radius:2px"></div>
<div class="t" style="font-size:14.49px;color:#020617;letter-spacing:-0.266px;font-family:'Liberation Mono', monospace;left:327px;top:981px;transform:translate(0.400px,0.524px);">Jan 30, 2025 11:04:10</div>
<div class="t" style="font-size:14.49px;color:#22c55e;letter-spacing:-0.266px;font-family:'Liberation Mono', monospace;left:565px;top:981px;transform:translate(0.000px,0.524px);">200</div>
<div class="t" style="font-size:14.49px;color:#64748b;letter-spacing:-0.266px;font-family:'Liberation Mono', monospace;left:636px;top:981px;transform:translate(0.200px,0.524px);">GET</div>
<div class="t" style="font-size:14.49px;color:#020617;letter-spacing:-0.266px;font-family:'Liberation Mono', monospace;left:717px;top:981px;transform:translate(0.800px,0.524px);">acme–shop.com</div>
<div class="t" style="font-size:14.49px;color:#020617;letter-spacing:-0.266px;font-family:'Liberation Mono', monospace;left:866px;top:981px;transform:translate(0.000px,0.524px);">/bikes/racing/t…</div>
<div class="t" style="font-size:14.49px;color:#020617;letter-spacing:-0.266px;font-family:'Liberation Mono', monospace;left:1019px;top:981px;transform:translate(0.500px,0.524px);">1,215<span style="color:#64748b">ms</span></div>
<div class="t" style="font-size:14.49px;color:#020617;letter-spacing:-0.266px;font-family:'Liberation Mono', monospace;left:1150px;top:981px;transform:translate(0.200px,0.524px);">gru <span style="color:#64748b;font-size:12.42px;letter-spacing:-0.228px">Sao Paulo</span></div>
<div class="b" style="left:1343px;top:979px;width:138px;height:16px;background:linear-gradient(to right,#72cfa0 0 14.0px,#72cbe0 14.0px 41.5px,#78a6f8 41.5px 52.5px,#ad8bfb 52.5px)"></div>
<div class="b" style="left:288px;top:1042px;width:1200px;height:1px;background:#e2e8f0"></div>
<div class="b" style="left:298px;top:1019px;transform:translate(0.000px,0.200px);width:10px;height:10px;background:#f1f5f9;border-radius:2px"></div>
<div class="t" style="font-size:14.49px;color:#020617;letter-spacing:-0.266px;font-family:'Liberation Mono', monospace;left:327px;top:1018px;transform:translate(0.400px,0.524px);">Jan 30, 2025 11:04:10</div>
<div class="t" style="font-size:14.49px;color:#22c55e;letter-spacing:-0.266px;font-family:'Liberation Mono', monospace;left:565px;top:1018px;transform:translate(0.000px,0.524px);">200</div>
<div class="t" style="font-size:14.49px;color:#64748b;letter-spacing:-0.266px;font-family:'Liberation Mono', monospace;left:636px;top:1018px;transform:translate(0.200px,0.524px);">GET</div>
<div class="t" style="font-size:14.49px;color:#020617;letter-spacing:-0.266px;font-family:'Liberation Mono', monospace;left:717px;top:1018px;transform:translate(0.800px,0.524px);">acme–shop.com</div>
<div class="t" style="font-size:14.49px;color:#020617;letter-spacing:-0.266px;font-family:'Liberation Mono', monospace;left:866px;top:1018px;transform:translate(0.000px,0.524px);">/bikes/racing/t…</div>
<div class="t" style="font-size:14.49px;color:#020617;letter-spacing:-0.266px;font-family:'Liberation Mono', monospace;left:1019px;top:1018px;transform:translate(0.500px,0.524px);">1,107<span style="color:#64748b">ms</span></div>
<div class="t" style="font-size:14.49px;color:#020617;letter-spacing:-0.266px;font-family:'Liberation Mono', monospace;left:1150px;top:1018px;transform:translate(0.200px,0.524px);">syd <span style="color:#64748b;font-size:12.42px;letter-spacing:-0.228px">Sydney</span></div>
<div class="b" style="left:1343px;top:1016px;width:138px;height:16px;background:linear-gradient(to right,#72cfa0 0 7.5px,#72cbe0 7.5px 28.5px,#78a6f8 28.5px 41.5px,#ad8bfb 41.5px)"></div>
<div class="b" style="left:1300px;top:970px;width:173px;height:40px;background:#111827;border-radius:8px"></div>
<div class="t" style="font-size:14.70px;color:#ffffff;letter-spacing:0.050px;font-family:'Liberation Sans', sans-serif;left:1316px;top:983px;transform:translate(0.600px,0.829px);-webkit-text-stroke:0.12px #fff;">View GitHub Repo</div>
<svg class="ic" style="left:1440px;top:981px;transform:translate(0.500px,0.500px);" width="16" height="16" viewBox="0 0 24 24" fill="none" stroke="#ffffff" stroke-width="2" stroke-linecap="round" stroke-linejoin="round"><path d="m9 18 6-6-6-6"/></svg>
<div class="b" style="left:0px;top:0px;width:3px;height:3px;background:radial-gradient(circle at 100% 100%, transparent 2.2px, #020617 3px)"></div>
<div class="b" style="left:1485px;top:0px;width:3px;height:3px;background:radial-gradient(circle at 0 100%, transparent 2.2px, #020617 3px)"></div>
<div class="b" style="left:0px;top:1022px;width:3px;height:3px;background:radial-gradient(circle at 100% 0, transparent 2.2px, #020617 3px)"></div>
<div class="b" style="left:1485px;top:1022px;width:3px;height:3px;background:radial-gradient(circle at 0 0, transparent 2.2px, #020617 3px)"></div>
</div></body></html>
